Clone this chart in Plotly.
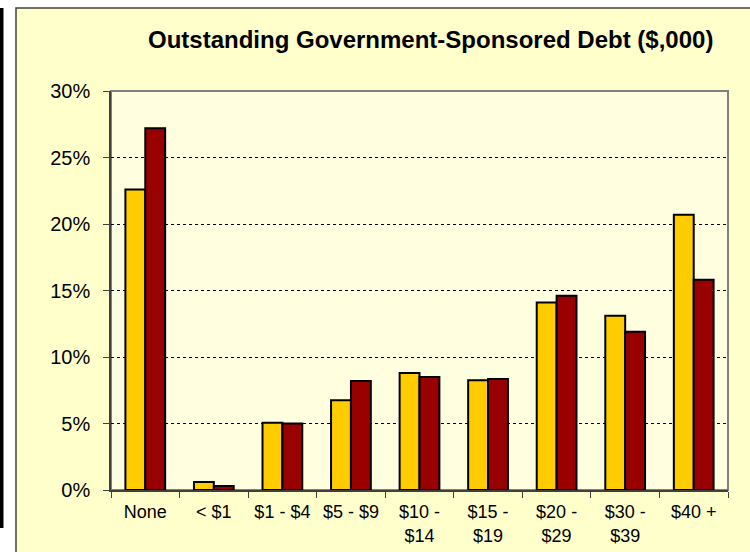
import plotly.graph_objects as go

categories = ["None", "< $1", "$1 - $4", "$5 - $9", "$10 -<br>$14", "$15 -<br>$19",
              "$20 -<br>$29", "$30 -<br>$39", "$40 +"]
series_a = [22.6, 0.6, 5.05, 6.75, 8.8, 8.25, 14.1, 13.1, 20.7]
series_b = [27.2, 0.3, 5.0, 8.2, 8.5, 8.35, 14.6, 11.9, 15.8]
y_ticks = [0, 5, 10, 15, 20, 25, 30]
y_ticktext = ["0%", "5%", "10%", "15%", "20%", "25%", "30%"]

W, H = 750, 552
L, R, T, B = 111, 728, 91, 490
pw, ph = R - L, B - T

def px(x):
    return (x - L) / pw

def py(y):
    return (B - y) / ph

fig = go.Figure()
fig.add_trace(go.Bar(x=categories, y=series_a, name="A",
                     marker=dict(color="#FFCC00", line=dict(color="black", width=2))))
fig.add_trace(go.Bar(x=categories, y=series_b, name="B",
                     marker=dict(color="#990000", line=dict(color="black", width=2))))

shapes = [
    dict(type="rect", xref="paper", yref="paper", x0=px(16), x1=px(754), y0=py(558), y1=py(8),
         fillcolor="#FFFFCC", line=dict(color="#404040", width=1.5), layer="below"),
    dict(type="rect", xref="paper", yref="paper", x0=0, x1=1, y0=0, y1=1,
         fillcolor="#FFFFE0", line=dict(color="#808080", width=2), layer="below"),
    dict(type="rect", xref="paper", yref="paper", x0=px(0), x1=px(3.5), y0=py(528), y1=py(8),
         fillcolor="black", line=dict(width=0), layer="below"),
]

fig.update_layout(
    width=W, height=H,
    margin=dict(l=L, r=W - R, t=T, b=H - B, pad=0, autoexpand=False),
    paper_bgcolor="white",
    plot_bgcolor="rgba(0,0,0,0)",
    showlegend=False,
    barmode="group",
    bargap=0.42,
    bargroupgap=0,
    shapes=shapes,
    font=dict(family="Liberation Sans, Arial, sans-serif", color="black"),
    annotations=[dict(text="<b>Outstanding Government-Sponsored Debt ($,000)</b>",
                      xref="paper", yref="paper", x=px(430), y=py(40),
                      xanchor="center", yanchor="middle", showarrow=False,
                      font=dict(size=24, family="Liberation Sans, Arial, sans-serif"))],
)
fig.update_yaxes(range=[0, 30], tickvals=y_ticks, ticktext=y_ticktext,
                 showgrid=True, gridcolor="black", griddash="dot", gridwidth=1,
                 showline=True, linecolor="#404040", linewidth=1.5,
                 ticks="outside", ticklen=6, tickcolor="#404040",
                 ticklabelstandoff=9, automargin=False,
                 tickfont=dict(size=20), zeroline=False)
fig.update_xaxes(showline=True, linecolor="#404040", linewidth=1.5,
                 ticks="outside", ticklen=6, tickcolor="#404040", tickson="boundaries",
                 ticklabelstandoff=5, automargin=False,
                 tickfont=dict(size=18), showgrid=False)

fig.write_html("out.html", config={"displayModeBar": False},
               post_script="document.body.style.margin='0px';document.body.style.padding='0px';")
